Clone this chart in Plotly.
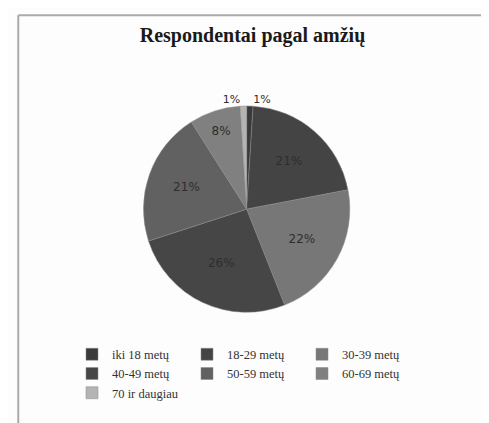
import plotly.graph_objects as go

labels = ["iki 18 metų", "18-29 metų", "30-39 metų", "40-49 metų", "50-59 metų", "60-69 metų", "70 ir daugiau"]
values = [1, 21, 22, 26, 21, 8, 1]
colors = ["#3a3a3a", "#444444", "#777777", "#464646", "#616161", "#808080", "#b4b4b4"]
text_pos = ["outside", "inside", "inside", "inside", "inside", "inside", "outside"]

fig = go.Figure(go.Pie(
    labels=labels,
    values=values,
    sort=False,
    direction="clockwise",
    rotation=0,
    marker=dict(colors=colors, line=dict(color="#8a8a8a", width=0.5)),
    textinfo="percent",
    textposition=text_pos,
    insidetextorientation="horizontal",
    insidetextfont=dict(family="DejaVu Sans", size=12, color="#2e2e2e"),
    outsidetextfont=dict(family="DejaVu Sans", size=11, color="#2e2e2e"),
    domain=dict(x=[0.277, 0.699], y=[0.275, 0.774]),
    showlegend=True,
))

fig.update_layout(
    width=489, height=423,
    margin=dict(l=0, r=0, t=0, b=0),
    paper_bgcolor="#fdfdfd",
    title=dict(text="<b>Respondentai pagal amžių</b>", x=0.5, xanchor="center",
               y=0.937, yanchor="middle",
               font=dict(family="Liberation Serif", size=20, color="#1a1a1a")),
    legend=dict(orientation="h", x=0.168, xanchor="left", y=0.216, yanchor="top",
                entrywidth=70, entrywidthmode="pixels",
                font=dict(family="Liberation Serif", size=12.5, color="#333"),
                itemwidth=30, tracegroupgap=0, bgcolor="rgba(0,0,0,0)"),
    shapes=[
        dict(type="line", xref="paper", yref="paper", x0=0.021, x1=0.021, y0=0.0, y1=0.983,
             line=dict(color="#aaaaaa", width=2)),
        dict(type="line", xref="paper", yref="paper", x0=0.021, x1=1.0, y0=0.983, y1=0.983,
             line=dict(color="#aaaaaa", width=2)),
    ],
)

fig.write_html("out.html")
